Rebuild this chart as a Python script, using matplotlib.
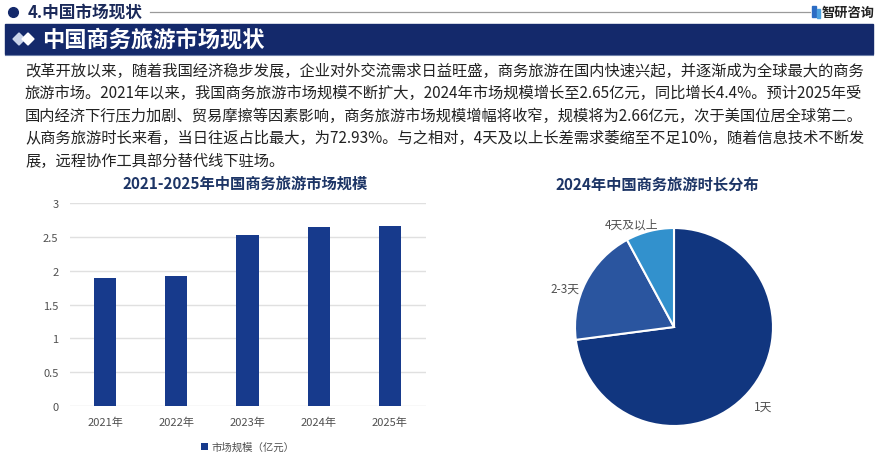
import numpy as np
import matplotlib
matplotlib.use("Agg")
import matplotlib.pyplot as plt
from matplotlib.patches import Rectangle, Polygon

plt.rcParams["font.family"] = ["Noto Sans CJK SC", "DejaVu Sans"]

# data
years = ["2021年", "2022年", "2023年", "2024年", "2025年"]
market_size = [1.89, 1.92, 2.53, 2.65, 2.66]
durations = ["1天", "2-3天", "4天及以上"]
duration_share = [72.93, 19.2, 7.87]

paragraph = [
    "改革开放以来，随着我国经济稳步发展，企业对外交流需求日益旺盛，商务旅游在国内快速兴起，并逐渐成为全球最大的商务",
    "旅游市场。2021年以来，我国商务旅游市场规模不断扩大，2024年市场规模增长至2.65亿元，同比增长4.4%。预计2025年受",
    "国内经济下行压力加剧、贸易摩擦等因素影响，商务旅游市场规模增幅将收窄，规模将为2.66亿元，次于美国位居全球第二。",
    "从商务旅游时长来看，当日往返占比最大，为72.93%。与之相对，4天及以上长差需求萎缩至不足10%，随着信息技术不断发",
    "展，远程协作工具部分替代线下驻场。",
]

navy = "#14296b"
bar_color = "#173a8c"
pie_colors = ["#11367f", "#2a559f", "#3291cd"]
title_color = "#1d3566"
tick_color = "#505050"

W, H = 885, 456
fig = plt.figure(figsize=(W / 100, H / 100), dpi=100)
fig.patch.set_facecolor("white")

# page overlay in pixel coordinates
bg = fig.add_axes([0, 0, 1, 1])
bg.set_xlim(0, W)
bg.set_ylim(H, 0)
bg.axis("off")

bg.plot([13], [13], "o", color=navy, markersize=7)
bg.text(28, 13, "4.中国市场现状", fontsize=12, fontweight="bold", color="#1b2a5a",
        va="center", ha="left")
bg.plot([150, 810], [13, 13], color="#9a9a9a", lw=0.9)
bg.add_patch(Rectangle((812, 7), 4, 11, color="#2b6cc4"))
bg.add_patch(Rectangle((817, 10), 3, 9, color="#4aa0e0"))
bg.text(822, 13, "智研咨询", fontsize=9.5, fontweight="bold", color="#222222",
        va="center", ha="left")

bg.add_patch(Rectangle((5, 25), 868, 30, color=navy))
bg.plot([5, 873], [55.5, 55.5], color="#6d7fa8", lw=0.8)
for dx, c in ((19, "#c9d3ea"), (28, "white")):
    bg.add_patch(Polygon([[dx - 6, 40], [dx, 34], [dx + 6, 40], [dx, 46]],
                         closed=True, color=c))
bg.text(42, 40, "中国商务旅游市场现状", fontsize=16, fontweight="bold", color="white",
        va="center", ha="left")

for i, line in enumerate(paragraph):
    bg.text(25, 71 + i * 22.6, line, fontsize=11, color="#222222", va="center", ha="left")

# bar chart
ax = fig.add_axes([69.5 / W, 1 - 407 / H, (425.5 - 69.5) / W, (407 - 204) / H])
x = np.arange(len(years))
ax.bar(x, market_size, width=0.31, color=bar_color, zorder=3)
ax.set_xlim(-0.5, 4.5)
ax.set_ylim(0, 3)
ax.set_yticks(np.arange(0, 3.01, 0.5))
ax.set_yticklabels(["0", "0.5", "1", "1.5", "2", "2.5", "3"])
ax.set_xticks(x)
ax.set_xticklabels(years)
ax.grid(axis="y", color="#e0e0e0", lw=1, zorder=0)
for s in ax.spines.values():
    s.set_visible(False)
ax.tick_params(length=0, labelsize=8, colors=tick_color)
ax.tick_params(axis="y", pad=8)
ax.tick_params(axis="x", pad=7.5)
fig.text(245 / W, 1 - 184 / H, "2021-2025年中国商务旅游市场规模", fontsize=11,
         fontweight="bold", color=title_color, ha="center", va="center")
ax.legend(["市场规模（亿元）"], loc="upper center", bbox_to_anchor=(0.5, -0.13),
          frameon=False, fontsize=7.5, handlelength=0.7, handleheight=0.7,
          handletextpad=0.3, labelcolor=tick_color)

# pie chart
half = 150
pax = fig.add_axes([(674 - half) / W, 1 - (328 + half) / H, 2 * half / W, 2 * half / H])
wedges, texts = pax.pie(duration_share, labels=durations, colors=pie_colors,
                        startangle=90, counterclock=False, labeldistance=1.07,
                        wedgeprops=dict(edgecolor="white", linewidth=1.5),
                        textprops=dict(fontsize=8.5, color=tick_color))
# nudge labels toward where the original places them
for t, (ox, oy) in zip(texts, [(0.0, -0.09), (0.0, -0.1), (0.1, 0.0)]):
    px, py = t.get_position()
    t.set_position((px + ox, py + oy))
lim = half / 99
pax.set_xlim(-lim, lim)
pax.set_ylim(-lim, lim)
pax.set_aspect("equal")
fig.text(657 / W, 1 - 185 / H, "2024年中国商务旅游时长分布", fontsize=11,
         fontweight="bold", color=title_color, ha="center", va="center")

fig.savefig("out.png", dpi=100, facecolor="white")
